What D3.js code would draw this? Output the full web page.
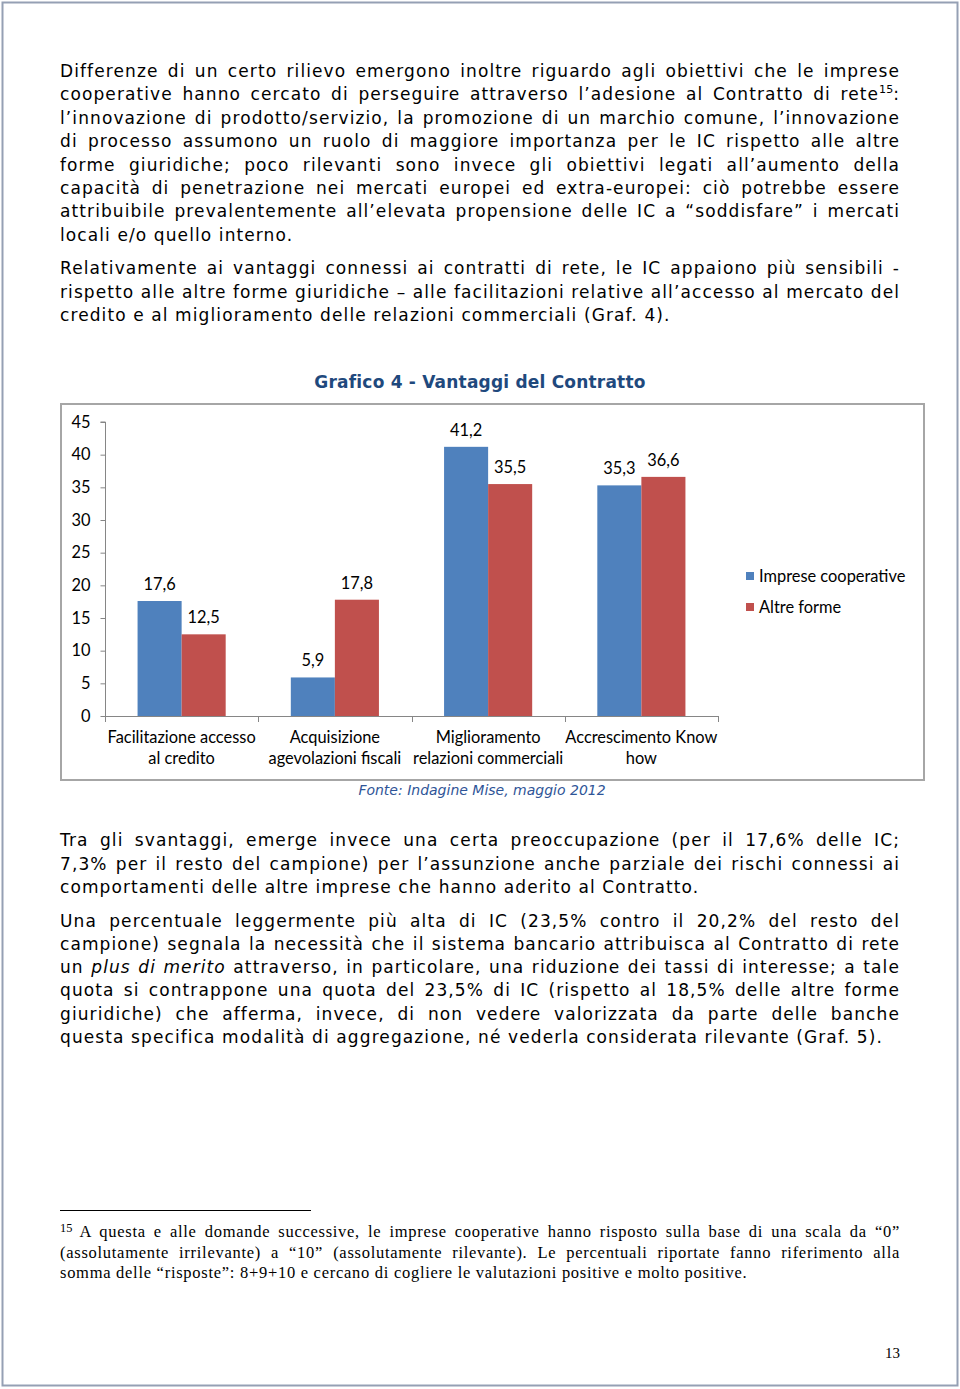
<!DOCTYPE html>
<html>
<head>
<meta charset="utf-8">
<script src="https://cdn.jsdelivr.net/npm/d3@7"></script>
<style>
html,body{margin:0;padding:0;background:#fff;}
svg{display:block;}
</style>
</head>
<body>
<script>
// ---------- DATA ----------
const categories = [
  ["Facilitazione accesso", "al credito"],
  ["Acquisizione", "agevolazioni fiscali"],
  ["Miglioramento", "relazioni commerciali"],
  ["Accrescimento Know", "how"]
];
const seriesNames = ["Imprese cooperative", "Altre forme"];
const valuesIC = [17.6, 5.9, 41.2, 35.3];
const valuesAltre = [12.5, 17.8, 35.5, 36.6];
const yTicks = [0, 5, 10, 15, 20, 25, 30, 35, 40, 45];
const seriesColors = ["#4F81BD", "#C0504D"];

const chartTitle = "Grafico 4 - Vantaggi del Contratto";
const sourceNote = "Fonte: Indagine Mise, maggio 2012";

const para1 = [
  "Differenze di un certo rilievo emergono inoltre riguardo agli obiettivi che le imprese",
  "cooperative hanno cercato di perseguire attraverso l’adesione al Contratto di rete^15^:",
  "l’innovazione di prodotto/servizio, la promozione di un marchio comune, l’innovazione",
  "di processo assumono un ruolo di maggiore importanza per le IC rispetto alle altre",
  "forme giuridiche; poco rilevanti sono invece gli obiettivi legati all’aumento della",
  "capacità di penetrazione nei mercati europei ed extra-europei: ciò potrebbe essere",
  "attribuibile prevalentemente all’elevata propensione delle IC a “soddisfare” i mercati",
  "locali e/o quello interno."
];
const para2 = [
  "Relativamente ai vantaggi connessi ai contratti di rete, le IC appaiono più sensibili -",
  "rispetto alle altre forme giuridiche – alle facilitazioni relative all’accesso al mercato del",
  "credito e al miglioramento delle relazioni commerciali (Graf. 4)."
];
const para3 = [
  "Tra gli svantaggi, emerge invece una certa preoccupazione (per il 17,6% delle IC;",
  "7,3% per il resto del campione) per l’assunzione anche parziale dei rischi connessi ai",
  "comportamenti delle altre imprese che hanno aderito al Contratto."
];
const para4 = [
  "Una percentuale leggermente più alta di IC (23,5% contro il 20,2% del resto del",
  "campione) segnala la necessità che il sistema bancario attribuisca al Contratto di rete",
  "un *plus di merito* attraverso, in particolare, una riduzione dei tassi di interesse; a tale",
  "quota si contrappone una quota del 23,5% di IC (rispetto al 18,5% delle altre forme",
  "giuridiche) che afferma, invece, di non vedere valorizzata da parte delle banche",
  "questa specifica modalità di aggregazione, né vederla considerata rilevante (Graf. 5)."
];
const footnote = [
  "^15^ A questa e alle domande successive, le imprese cooperative hanno risposto sulla base di una scala da “0”",
  "(assolutamente irrilevante) a “10” (assolutamente rilevante). Le percentuali riportate fanno riferimento alla",
  "somma delle “risposte”: 8+9+10 e cercano di cogliere le valutazioni positive e molto positive."
];
const pageNumber = "13";

// ---------- DRAW ----------
const W = 960, H = 1389;
const svg = d3.select("body").append("svg").attr("width", W).attr("height", H);

svg.append("rect").attr("x", 0).attr("y", 0).attr("width", W).attr("height", H).attr("fill", "#fff");
svg.append("rect").attr("x", 2.5).attr("y", 2.5).attr("width", 955).attr("height", 1383)
  .attr("fill", "none").attr("stroke", "#95a0b4").attr("stroke-width", 2);

const LEFT = 60, TEXTW = 840;

function addLine(str, x, y, opts) {
  const t = svg.append("text").attr("x", x).attr("y", y)
    .attr("font-family", opts.family).attr("font-size", opts.size)
    .attr("letter-spacing", opts.ls).attr("fill", "#000");
  const parts = str.split(/(\*[^*]+\*|\^[^^]+\^)/).filter(s => s.length);
  let raised = false;
  parts.forEach(p => {
    if (p.startsWith("*")) {
      const ts = t.append("tspan").attr("font-style", "italic").text(p.slice(1, -1));
      if (raised) { ts.attr("dy", opts.supDy); raised = false; }
    } else if (p.startsWith("^")) {
      t.append("tspan").attr("font-size", opts.size * opts.supScale).attr("letter-spacing", 0)
        .attr("dy", -opts.supDy).text(p.slice(1, -1));
      raised = true;
    } else {
      const ts = t.append("tspan").text(p);
      if (raised) { ts.attr("dy", opts.supDy); raised = false; }
    }
  });
  if (opts.justify) {
    const node = t.node();
    const w = node.getComputedTextLength();
    const n = (node.textContent.match(/ /g) || []).length;
    if (n && w < TEXTW) t.attr("word-spacing", (TEXTW - w) / n);
  }
  return t;
}

function addPara(lines, y0, lh, opts) {
  lines.forEach((l, i) => {
    addLine(l, LEFT, y0 + i * lh, Object.assign({}, opts, { justify: i < lines.length - 1 }));
  });
}

const bodyOpts = { family: "'DejaVu Sans', Verdana, sans-serif", size: 17, ls: 1.1, supDy: 7, supScale: 0.65 };
addPara(para1, 77, 23.4, bodyOpts);
addPara(para2, 274, 23.5, bodyOpts);
addPara(para3, 846, 23.5, bodyOpts);
addPara(para4, 926.5, 23.3, bodyOpts);

// footnote
svg.append("line").attr("x1", 60).attr("x2", 311).attr("y1", 1210.5).attr("y2", 1210.5)
  .attr("stroke", "#000").attr("stroke-width", 1);
addPara(footnote, 1237, 20.5, { family: "'Liberation Serif', 'Times New Roman', serif", size: 16.5, ls: 0.72, supDy: 5, supScale: 0.75 });

svg.append("text").attr("x", 900).attr("y", 1358).attr("text-anchor", "end")
  .attr("font-family", "'Liberation Serif', serif").attr("font-size", 15).text(pageNumber);

// ---------- CHART ----------
svg.append("text").attr("x", 480).attr("y", 388).attr("text-anchor", "middle")
  .attr("font-family", "'DejaVu Sans', Verdana, sans-serif").attr("font-size", 17)
  .attr("letter-spacing", 0.2)
  .attr("font-weight", "bold").attr("fill", "#1F497D").text(chartTitle);

svg.append("rect").attr("x", 61).attr("y", 404).attr("width", 863).attr("height", 376)
  .attr("fill", "#fff").attr("stroke", "#a6a6a6").attr("stroke-width", 2);

svg.append("text").attr("x", 482).attr("y", 795).attr("text-anchor", "middle")
  .attr("font-family", "'DejaVu Sans', Verdana, sans-serif").attr("font-size", 14)
  .attr("font-style", "italic").attr("fill", "#2F5597").text(sourceNote);

const chartFont = "Lato, 'Open Sans', sans-serif";
const CF = 16.4;
const y = d3.scaleLinear().domain([0, 45]).range([716, 422]);
const catKeys = categories.map(c => c.join(" "));
const x0 = d3.scaleBand().domain(catKeys).range([105, 718]).paddingInner(0.425).paddingOuter(0.2125);
const x1 = d3.scaleBand().domain(seriesNames).range([0, x0.bandwidth()]);
const color = d3.scaleOrdinal().domain(seriesNames).range(seriesColors);

const rows = catKeys.map((k, i) => ({ key: k, lines: categories[i], vals: [valuesIC[i], valuesAltre[i]] }));

// y axis
const yAxis = d3.axisLeft(y).tickValues(yTicks).tickSize(5).tickPadding(10);
const gy = svg.append("g").attr("transform", "translate(105.5,0)").call(yAxis);
gy.selectAll("path, line").attr("stroke", "#868686");
gy.selectAll("text").attr("font-family", chartFont).attr("font-size", CF).attr("fill", "#000");
gy.select(".domain").attr("d", `M-5,${y(45)}H0V${y(0)}`);

// bars
const g = svg.append("g");
const grp = g.selectAll("g.cat").data(rows).join("g").attr("class", "cat")
  .attr("transform", d => `translate(${x0(d.key)},0)`);
grp.selectAll("rect").data(d => d.vals.map((v, j) => ({ s: seriesNames[j], v })))
  .join("rect")
  .attr("x", d => x1(d.s)).attr("width", x1.bandwidth())
  .attr("y", d => y(d.v)).attr("height", d => y(0) - y(d.v))
  .attr("fill", d => color(d.s));
grp.selectAll("text.val").data(d => d.vals.map((v, j) => ({ s: seriesNames[j], v })))
  .join("text").attr("class", "val")
  .attr("x", d => x1(d.s) + x1.bandwidth() / 2)
  .attr("y", d => y(d.v) - 11)
  .attr("text-anchor", "middle").attr("font-family", chartFont).attr("font-size", CF).attr("fill", "#000")
  .text(d => d3.format(".1f")(d.v).replace(".", ","));

// x axis
const step = x0.step();
const boundaries = d3.range(catKeys.length + 1).map(i => 105 + i * step);
svg.append("line").attr("x1", 105).attr("x2", 718).attr("y1", y(0) + 0.5).attr("y2", y(0) + 0.5)
  .attr("stroke", "#868686");
svg.selectAll("line.xt").data(boundaries).join("line").attr("class", "xt")
  .attr("x1", d => Math.round(d) + 0.5).attr("x2", d => Math.round(d) + 0.5)
  .attr("y1", y(0)).attr("y2", y(0) + 6).attr("stroke", "#868686");
rows.forEach(r => {
  const cx = x0(r.key) + x0.bandwidth() / 2;
  r.lines.forEach((l, i) => {
    svg.append("text").attr("x", cx).attr("y", 743 + i * 21).attr("text-anchor", "middle")
      .attr("font-family", chartFont).attr("font-size", CF).attr("fill", "#000").text(l);
  });
});

// legend
seriesNames.forEach((s, i) => {
  svg.append("rect").attr("x", 746).attr("y", 572 + i * 31).attr("width", 8).attr("height", 8).attr("fill", seriesColors[i]);
  svg.append("text").attr("x", 759).attr("y", 582 + i * 31).attr("font-family", chartFont)
    .attr("font-size", CF).attr("fill", "#000").text(s);
});
</script>
</body>
</html>
